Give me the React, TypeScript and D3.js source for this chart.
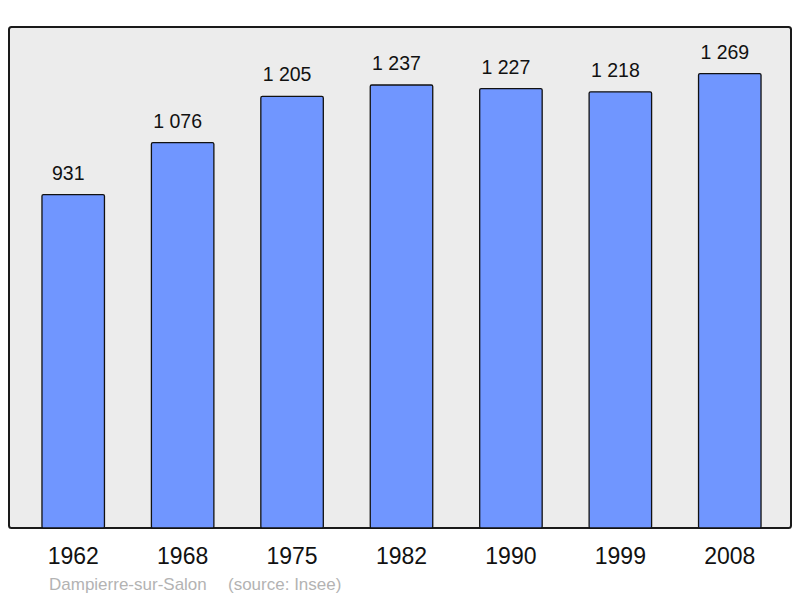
import React from "react";
import * as d3 from "d3";

const years = ["1962", "1968", "1975", "1982", "1990", "1999", "2008"];
const population = [931, 1076, 1205, 1237, 1227, 1218, 1269];
const commune = "Dampierre-sur-Salon";
const source = "(source: Insee)";

const W = 800;
const H = 598;
const panel = { x: 9, y: 27, w: 782, h: 501 };

const fmt = (v: number) => {
  const s = String(v);
  return s.length > 3 ? s.slice(0, s.length - 3) + " " + s.slice(-3) : s;
};

export default function App() {
  const x = d3
    .scaleBand<string>()
    .domain(years)
    .range([18.5, 784.5])
    .paddingInner(0.429)
    .paddingOuter(0.2145);
  const y = d3.scaleLinear().domain([0, 1399]).range([panel.y + panel.h, panel.y]);
  const font = "'Liberation Sans', Arial, sans-serif";
  return (
    <svg
      width={W}
      height={H}
      style={{ position: "absolute", left: 0, top: 0 }}
      fontFamily={font}
    >
      <rect x={0} y={0} width={W} height={H} fill="#ffffff" />
      <rect
        x={panel.x}
        y={panel.y}
        width={panel.w}
        height={panel.h}
        rx={2.5}
        fill="#ececec"
        stroke="#1a1a1a"
        strokeWidth={2}
      />
      {years.map((yr, i) => {
        const bx = x(yr)!;
        const top = y(population[i]);
        return (
          <g key={yr}>
            <rect
              x={bx}
              y={top}
              width={x.bandwidth()}
              height={y(0) - top}
              rx={1.5}
              fill="#7096ff"
              stroke="#111"
              strokeWidth={1.3}
            />
            <text
              x={bx + x.bandwidth() / 2 - 5}
              y={top - 15}
              textAnchor="middle"
              fontSize={19.5}
              fill="#111"
            >
              {fmt(population[i])}
            </text>
            <text
              x={bx + x.bandwidth() / 2}
              y={564}
              textAnchor="middle"
              fontSize={23}
              fill="#111"
            >
              {yr}
            </text>
          </g>
        );
      })}
      <text x={49} y={590} fontSize={17} fill="#b3b3b3">
        {commune}
      </text>
      <text x={228} y={590} fontSize={17} fill="#b3b3b3">
        {source}
      </text>
    </svg>
  );
}
